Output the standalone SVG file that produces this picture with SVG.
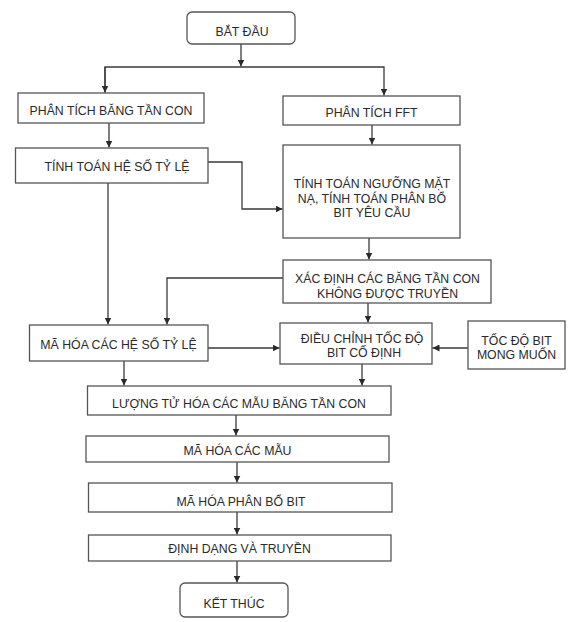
<svg xmlns="http://www.w3.org/2000/svg" width="576" height="622" viewBox="0 0 576 622">
<style>
.b{fill:#ffffff;stroke:#555555;stroke-width:1.3}
.t{font-family:"Liberation Sans",Arial,sans-serif;font-size:12.3px;fill:#2a2a2a;text-anchor:middle}
.c{fill:none;stroke:#3a3a3a;stroke-width:1.3}
</style>
<defs>
<marker id="ah" markerUnits="userSpaceOnUse" markerWidth="8" markerHeight="7" refX="7" refY="3.5" orient="auto">
<path d="M0,0 L7,3.5 L0,7 z" fill="#2a2a2a"/>
</marker>
</defs>
<rect width="576" height="622" fill="#ffffff"/>
<g id="connectors">
<path class="c" d="M241,44 V66.5" marker-end="url(#ah)"/>
<path class="c" d="M105,92.5 V67 H384 V95.5" marker-end="url(#ah)"/>
<path class="c" d="M105,67 V92.5" marker-end="url(#ah)"/>
<path class="c" d="M109,123 V147.5" marker-end="url(#ah)"/>
<path class="c" d="M372,125 V144.5" marker-end="url(#ah)"/>
<path class="c" d="M208,162 H242 V209 H282.5" marker-end="url(#ah)"/>
<path class="c" d="M108,183 V324.5" marker-end="url(#ah)"/>
<path class="c" d="M369,238 V259.5" marker-end="url(#ah)"/>
<path class="c" d="M283,278 H167 V324.5" marker-end="url(#ah)"/>
<path class="c" d="M368,303 V322.5" marker-end="url(#ah)"/>
<path class="c" d="M208,348 H279.5" marker-end="url(#ah)"/>
<path class="c" d="M468,348 H432.5" marker-end="url(#ah)"/>
<path class="c" d="M124,361 V385.5" marker-end="url(#ah)"/>
<path class="c" d="M362,364 V385.5" marker-end="url(#ah)"/>
<path class="c" d="M236,415 V435.5" marker-end="url(#ah)"/>
<path class="c" d="M237,462 V482.5" marker-end="url(#ah)"/>
<path class="c" d="M237,512 V534.5" marker-end="url(#ah)"/>
<path class="c" d="M237,561 V582.5" marker-end="url(#ah)"/>
</g>
<g id="start">
<rect class="b" x="187" y="12" width="108" height="32" rx="5"/>
<text class="t" x="242" y="36">BẮT ĐẦU</text>
</g>
<g id="subband">
<rect class="b" x="18" y="93" width="186" height="30"/>
<text class="t" x="111" y="115">PHÂN TÍCH BĂNG TẦN CON</text>
</g>
<g id="fft">
<rect class="b" x="283" y="96" width="177" height="29"/>
<text class="t" x="371.5" y="117">PHÂN TÍCH FFT</text>
</g>
<g id="scalefactor">
<rect class="b" x="15.5" y="148" width="192.5" height="35"/>
<text class="t" x="117" y="171">TÍNH TOÁN HỆ SỐ TỶ LỆ</text>
</g>
<g id="mask">
<rect class="b" x="283" y="145" width="177" height="93"/>
<text class="t" x="372" y="188">TÍNH TOÁN NGƯỠNG MẶT</text>
<text class="t" x="372" y="202.5">NẠ, TÍNH TOÁN PHÂN BỔ</text>
<text class="t" x="372" y="217">BIT YÊU CẦU</text>
</g>
<g id="unused">
<rect class="b" x="283" y="260" width="208" height="43"/>
<text class="t" x="387.5" y="282.5">XÁC ĐỊNH CÁC BĂNG TẦN CON</text>
<text class="t" x="387.5" y="297.5">KHÔNG ĐƯỢC TRUYỀN</text>
</g>
<g id="encodescale">
<rect class="b" x="29.5" y="325" width="178.5" height="36"/>
<text class="t" x="118.5" y="348.5">MÃ HÓA CÁC HỆ SỐ TỶ LỆ</text>
</g>
<g id="adjust">
<rect class="b" x="280" y="323" width="152" height="41"/>
<text class="t" x="362" y="342.5">ĐIỀU CHỈNH TỐC ĐỘ</text>
<text class="t" x="364" y="356.5">BIT CỐ ĐỊNH</text>
</g>
<g id="desired">
<rect class="b" x="468" y="321" width="97" height="48"/>
<text class="t" x="516.5" y="344.5">TỐC ĐỘ BIT</text>
<text class="t" x="516.5" y="358.5">MONG MUỐN</text>
</g>
<g id="quantize">
<rect class="b" x="87.5" y="386" width="303.5" height="29"/>
<text class="t" x="239" y="408">LƯỢNG TỬ HÓA CÁC MẪU BĂNG TẦN CON</text>
</g>
<g id="encodesamples">
<rect class="b" x="86" y="436" width="303" height="26"/>
<text class="t" x="237.5" y="454.5">MÃ HÓA CÁC MẪU</text>
</g>
<g id="encodealloc">
<rect class="b" x="88.5" y="483" width="303.5" height="29"/>
<text class="t" x="241" y="505.5">MÃ HÓA PHÂN BỔ BIT</text>
</g>
<g id="format">
<rect class="b" x="88.5" y="535" width="302.5" height="26"/>
<text class="t" x="239.5" y="553">ĐỊNH DẠNG VÀ TRUYỀN</text>
</g>
<g id="end">
<rect class="b" x="180" y="583" width="108" height="34" rx="5"/>
<text class="t" x="234" y="608">KẾT THÚC</text>
</g>
</svg>
